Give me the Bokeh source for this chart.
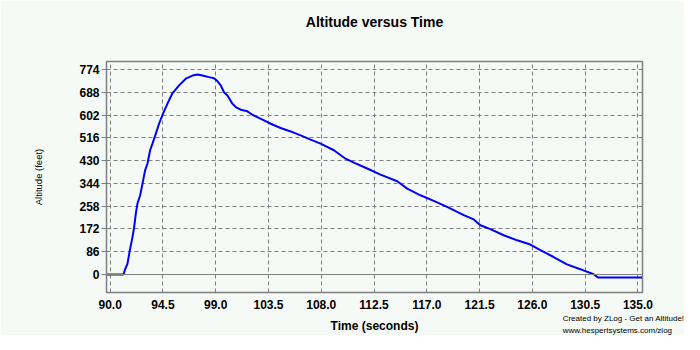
from bokeh.plotting import figure
from bokeh.models import FixedTicker, Range1d, Span, Title, NumeralTickFormatter
from bokeh.embed import file_html
from bokeh.resources import INLINE

# Data
time_s = [89.72, 91.14, 91.25, 91.48, 91.68, 91.91, 92.05, 92.19, 92.33, 92.56,
          92.76, 92.98, 93.18, 93.41, 93.61, 93.89, 94.17, 94.51, 94.89, 95.31,
          95.88, 96.45, 97.02, 97.44, 97.87, 98.43, 98.86, 99.14, 99.43, 99.71,
          100.0, 100.42, 100.71, 101.13, 101.70, 102.13, 102.55, 103.12, 103.69, 104.54,
          105.39, 106.24, 107.09, 107.94, 109.08, 110.07, 110.78, 111.92, 113.05, 114.48,
          115.33, 116.46, 117.59, 118.73, 120.15, 121.0, 121.57, 122.42, 123.56, 124.7,
          125.83, 126.68, 127.81, 128.95, 130.09, 131.22, 131.59, 135.35]
altitude_ft = [0, 0, 16, 41, 92, 142, 180, 230, 268, 299,
               343, 393, 418, 469, 494, 531, 569, 607, 645, 684,
               714, 739, 751, 755, 751, 745, 741, 730, 714, 688,
               676, 645, 632, 622, 616, 603, 594, 582, 569, 553,
               540, 525, 509, 494, 469, 437, 422, 400, 377, 352,
               324, 299, 278, 255, 224, 208, 186, 171, 148, 129,
               113, 92, 66, 38, 20, 1, -11, -11]
y_ticks = [0, 86, 172, 258, 344, 430, 516, 602, 688, 774]
x_ticks = [90.0, 94.5, 99.0, 103.5, 108.0, 112.5, 117.0, 121.5, 126.0, 130.5, 135.0]
title_text = "Altitude versus Time"
footer_lines = ["Created by ZLog - Get an Altitude!", "www.hespertsystems.com/zlog"]

BG = "#F5FAF6"
GRID = "#808080"
FONT = "Liberation Sans"

p = figure(title=None, frame_width=536, frame_height=231,
           min_border_left=106, min_border_right=42, min_border_top=61, min_border_bottom=42,
           x_range=Range1d(89.69, 135.39), y_range=Range1d(-68, 804),
           output_backend="svg", toolbar_location=None,
           background_fill_color=BG, border_fill_color=BG)

# title: two trailing empty lines make the box tall, so the text sits near the top
p.add_layout(Title(text=title_text + "\n\n", align="center", text_font=FONT,
                   text_font_size="14px", text_font_style="bold", text_color="black",
                   standoff=-4, vertical_align="top"), "above")

p.outline_line_color = GRID
p.outline_line_width = 1.5
p.outline_line_alpha = 1

# axes
xax = p.below[0]
yax = p.left[0]
xax.ticker = FixedTicker(ticks=x_ticks)
xax.formatter = NumeralTickFormatter(format="0.0")
yax.ticker = FixedTicker(ticks=y_ticks)
for ax in (xax, yax):
    ax.axis_line_color = GRID
    ax.major_tick_line_color = GRID
    ax.minor_tick_line_color = None
    ax.major_label_text_font = FONT
    ax.major_label_text_font_size = "12px"
    ax.major_label_text_font_style = "bold"
    ax.major_label_text_color = "black"
    ax.axis_label_text_color = "black"
    ax.axis_label_text_font = FONT

xax.major_tick_in = 0
xax.major_tick_out = 0
xax.major_label_standoff = 7
xax.axis_label = "Time (seconds)"
xax.axis_label_text_font_size = "12px"
xax.axis_label_text_font_style = "bold"
xax.axis_label_standoff = 7

yax.major_tick_in = 0
yax.major_tick_out = 5
yax.major_label_standoff = 2
yax.axis_label = "Altitude (feet)"
yax.axis_label_text_font_size = "9.5px"
yax.axis_label_text_font_style = "normal"
yax.axis_label_standoff = 32

# grid
p.grid.grid_line_color = GRID
p.grid.grid_line_dash = "4 3"
p.grid.grid_line_width = 1
p.add_layout(Span(location=0, dimension="width", line_color=GRID, line_width=1.2))

p.line(time_s, altitude_ft, line_color="#0000FF", line_width=2)

# two-line footer (negative standoff pulls it up beside the axis label)
p.add_layout(Title(text="\n".join(footer_lines), align="right", offset=-42, text_font=FONT,
                   text_font_size="8px", text_font_style="normal", text_color="black",
                   text_line_height=1.35, vertical_align="top", standoff=-44), "below")

open("out.html", "w").write(file_html(p, INLINE))
